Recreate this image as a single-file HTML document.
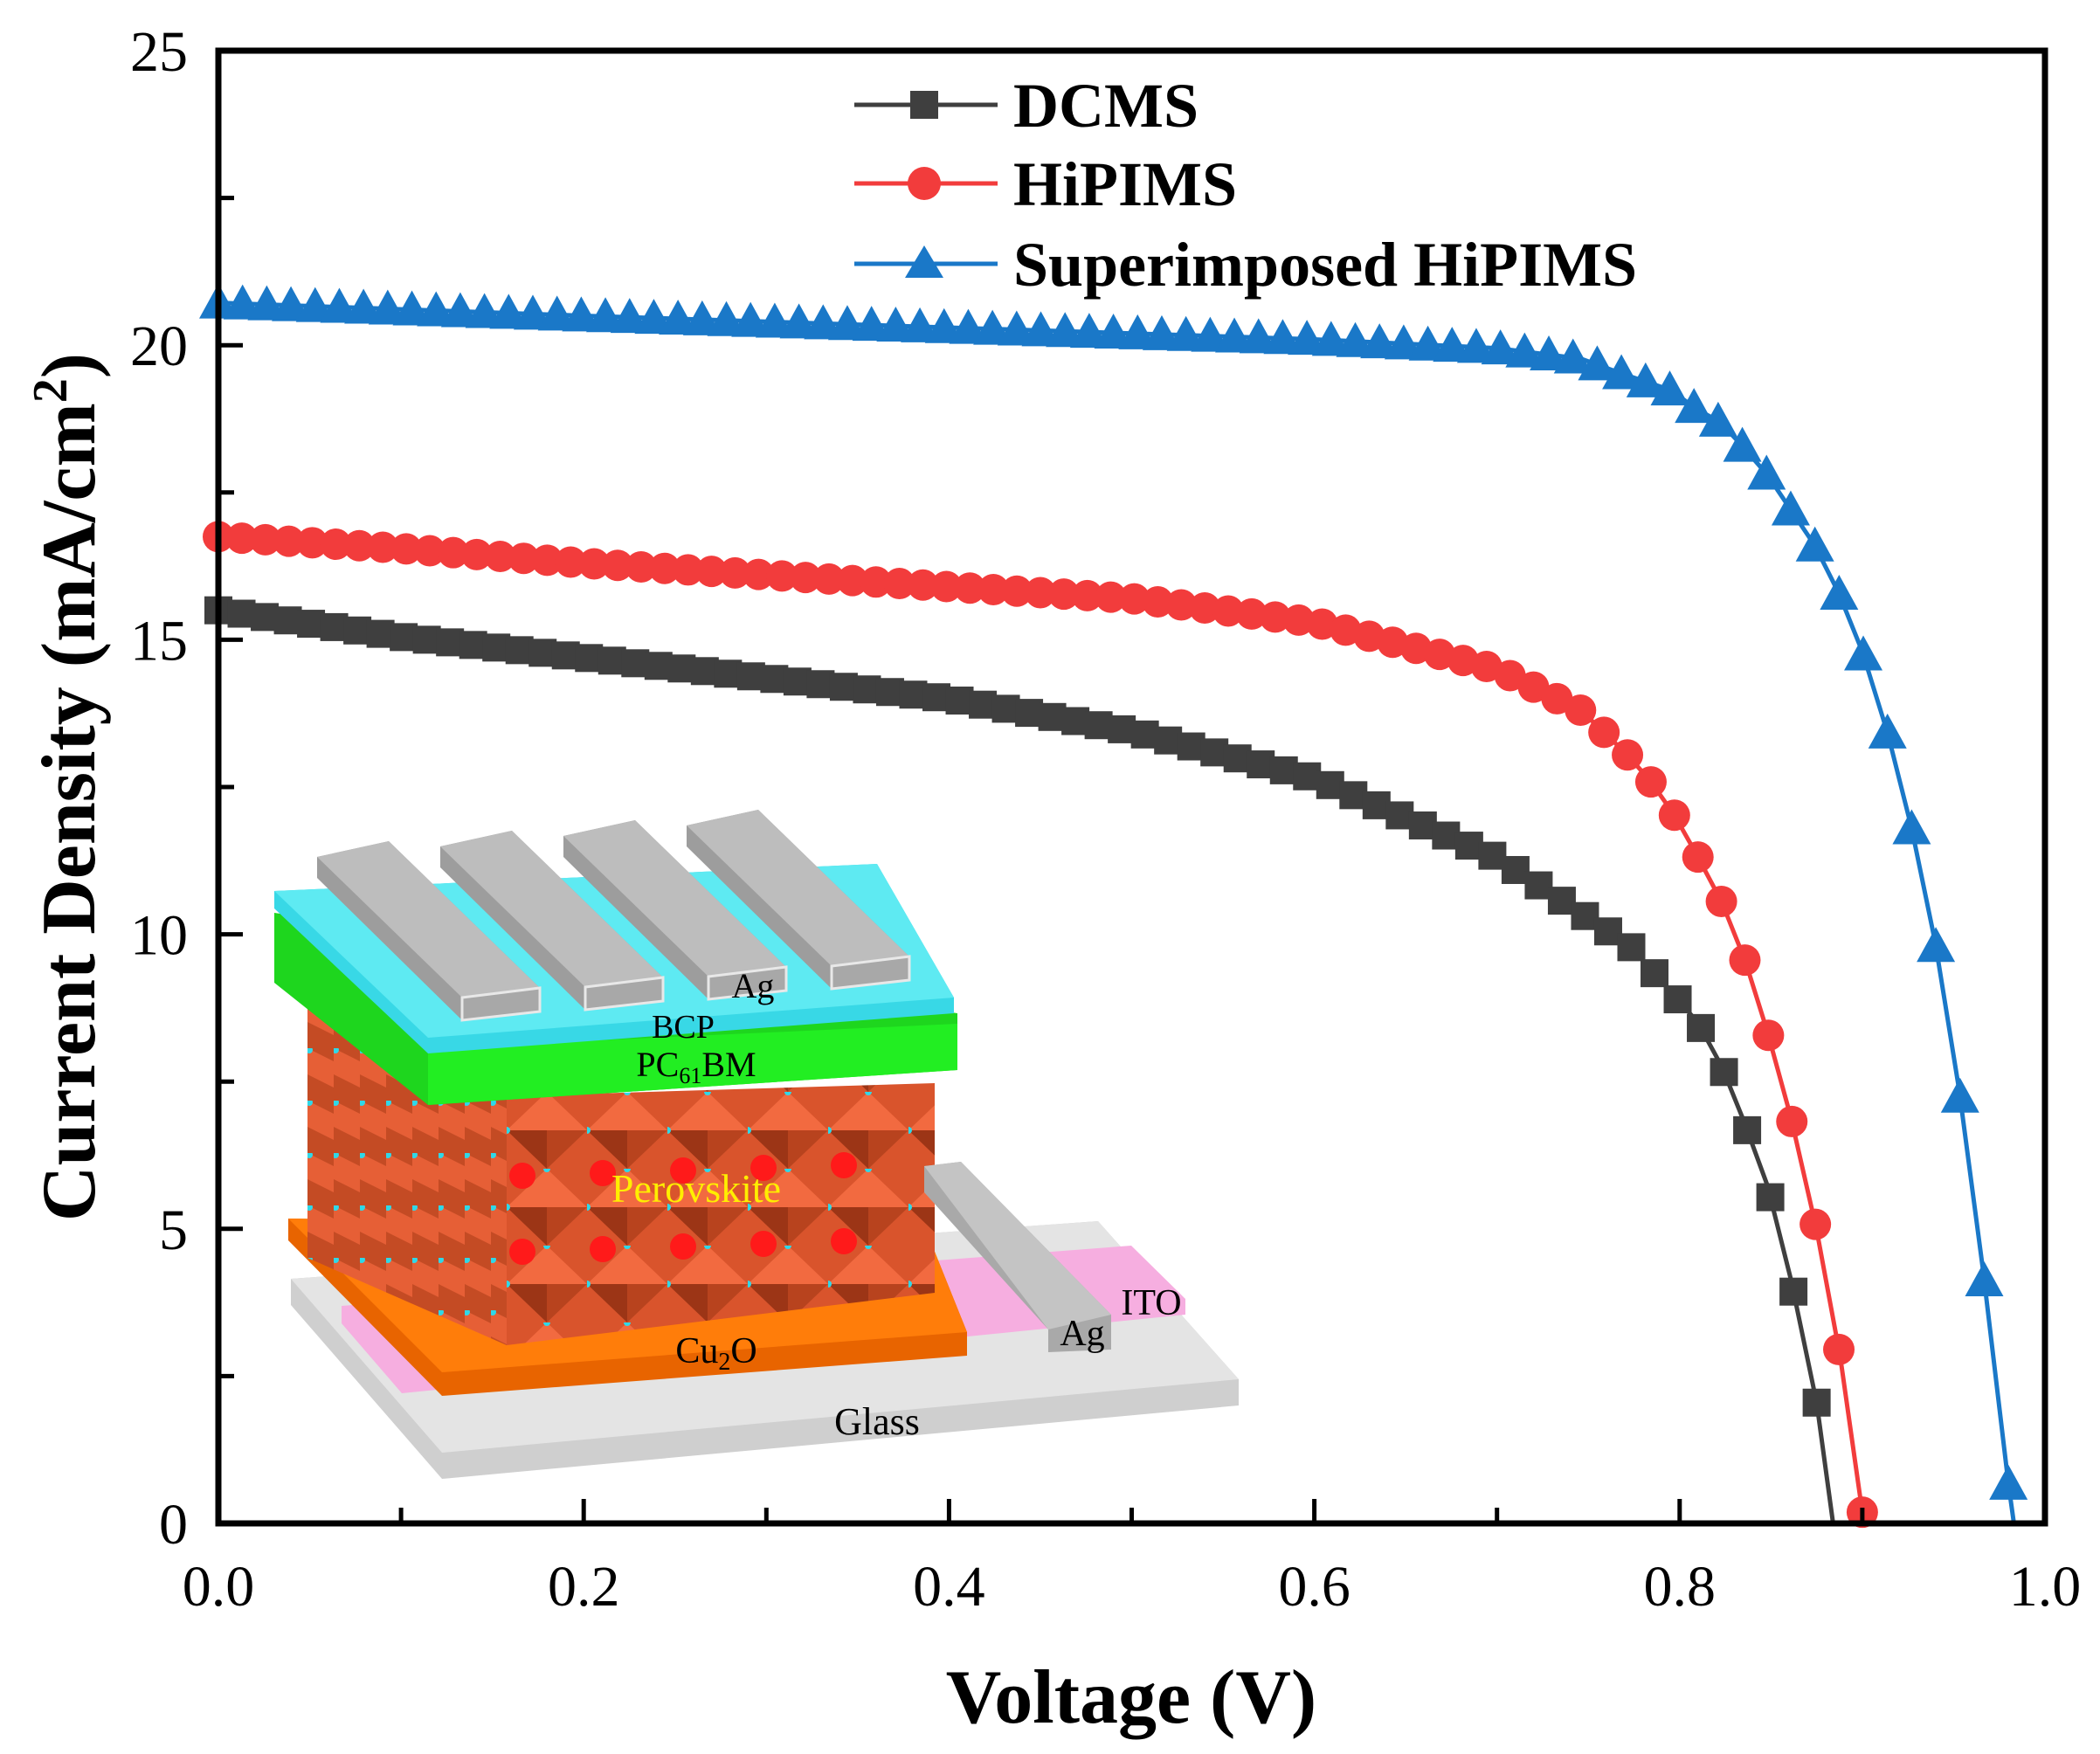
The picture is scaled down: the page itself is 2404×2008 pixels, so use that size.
<!DOCTYPE html>
<html><head><meta charset="utf-8"><style>
html,body{margin:0;padding:0;background:#fff;}
svg{display:block;}
text{font-family:"Liberation Serif",serif;}
</style></head><body>
<svg id="s" width="2404" height="2008" viewBox="0 0 2404 2008" xmlns="http://www.w3.org/2000/svg">
<defs>
<pattern id="oct" x="580" y="1250" width="92" height="88" patternUnits="userSpaceOnUse">
<rect width="92" height="88" fill="#d9542c"/>
<polygon points="46,0 92,44 46,44 0,44" fill="#f26a40"/>
<polygon points="0,44 46,44 46,88" fill="#9c3516"/>
<polygon points="46,44 92,44 46,88" fill="#b8431e"/>
<circle cx="46" cy="0" r="4" fill="#2fd8e8"/>
<circle cx="0" cy="44" r="4" fill="#2fd8e8"/>
</pattern>
<pattern id="octs" x="352" y="1140" width="30" height="60" patternUnits="userSpaceOnUse">
<rect width="30" height="60" fill="#c44b24"/>
<polygon points="0,0 30,15 30,45 0,30" fill="#e65f36"/>
<circle cx="2" cy="2" r="4" fill="#2fd8e8"/>
</pattern>
</defs>
<g id="inset">
<polygon points="333,1464 1257,1398 1418,1579 1418,1609 506,1693 333,1494" fill="#cfcfcf"/>
<polygon points="333,1464 1257,1398 1418,1579 506,1663" fill="#e4e4e4"/>
<text x="1004" y="1642" font-size="44" text-anchor="middle">Glass</text>
<polygon points="391,1495 1295,1426 1357,1487 1357,1505 460,1595 391,1515" fill="#f6aee0"/>
<text x="1318" y="1505" font-size="42" text-anchor="middle">ITO</text>
<polygon points="330,1395 1058,1403 1107,1525 1107,1552 506,1598 330,1420" fill="#e86400"/>
<polygon points="330,1395 1058,1403 1107,1525 506,1571" fill="#ff7d0a"/>
<text x="820" y="1560" font-size="42" text-anchor="middle">Cu<tspan font-size="28" dy="8">2</tspan><tspan dy="-8">O</tspan></text>
<polygon points="352,1142 580,1255 580,1540 352,1440" fill="url(#octs)"/>
<polygon points="580,1255 1070,1240 1070,1480 580,1540" fill="url(#oct)"/>
<g fill="#ff1a1a">
<circle cx="598" cy="1346" r="15"/><circle cx="690" cy="1343" r="15"/><circle cx="782" cy="1340" r="15"/><circle cx="874" cy="1337" r="15"/><circle cx="966" cy="1334" r="15"/>
<circle cx="598" cy="1433" r="15"/><circle cx="690" cy="1430" r="15"/><circle cx="782" cy="1427" r="15"/><circle cx="874" cy="1424" r="15"/><circle cx="966" cy="1421" r="15"/>
</g>
<text x="797" y="1376" font-size="46" fill="#ffee00" text-anchor="middle">Perovskite</text>
<polygon points="1058,1335 1100,1330 1272,1505 1272,1545 1200,1548 1200,1522 1058,1365" fill="#a9a9a9"/>
<polygon points="1058,1335 1100,1330 1272,1505 1200,1522" fill="#c4c4c4"/>
<text x="1239" y="1540" font-size="42" text-anchor="middle">Ag</text>
<polygon points="314,1045 1096,1160 1096,1225 490,1265 314,1125" fill="#1ed61e"/>
<polygon points="490,1200 1096,1172 1096,1225 490,1265" fill="#22ee22"/>
<text x="797" y="1232" font-size="40" text-anchor="middle">PC<tspan font-size="26" dy="8">61</tspan><tspan dy="-8">BM</tspan></text>
<polygon points="314,1020 1004,989 1092,1142 1092,1160 490,1206 314,1040" fill="#38d8e6"/>
<polygon points="314,1020 1004,989 1092,1142 490,1188" fill="#5eeaf2"/>
<text x="782" y="1188" font-size="38" text-anchor="middle">BCP</text>
<g id="fingers"></g>
<text x="862" y="1142" font-size="40" text-anchor="middle">Ag</text>
</g>
<g id="plot"></g>
<rect x="250" y="58" width="2091" height="1686" fill="none" stroke="#000" stroke-width="7"/>
<g id="ticks" stroke="#000" stroke-width="5"></g>
<g font-size="66" id="labels"></g>
<text x="1295" y="1972" font-size="88" font-weight="bold" text-anchor="middle">Voltage (V)</text>
<text transform="translate(108,901) rotate(-90)" font-size="88" font-weight="bold" text-anchor="middle">Current Density (mA/cm<tspan font-size="56" dy="-32">2</tspan><tspan dy="32">)</tspan></text>
<g font-size="72" font-weight="bold">
<line x1="978" y1="120" x2="1142" y2="120" stroke="#3f3f3f" stroke-width="5"/>
<rect x="1042" y="104" width="32" height="32" fill="#3f3f3f"/>
<text x="1160" y="145">DCMS</text>
<line x1="978" y1="210" x2="1142" y2="210" stroke="#f23c3c" stroke-width="5"/>
<circle cx="1058" cy="210" r="19" fill="#f23c3c"/>
<text x="1160" y="235">HiPIMS</text>
<line x1="978" y1="302" x2="1142" y2="302" stroke="#1a78c8" stroke-width="5"/>
<polygon points="1058,281 1080,318 1036,318" fill="#1a78c8"/>
<text x="1160" y="327">Superimposed HiPIMS</text>
</g>
</svg>
<script>
var NS="http://www.w3.org/2000/svg";
function el(t,a,p){var e=document.createElementNS(NS,t);for(var k in a)e.setAttribute(k,a[k]);p.appendChild(e);return e;}
var X=function(v){return 250+v*2091;}, Y=function(j){return 1744-j*67.44;};
var fg=document.getElementById('fingers');
for(var i=0;i<4;i++){var dx=i*141,dy=-i*12;
 function P(a){return a.map(function(p){return (p[0]+dx)+','+(p[1]+dy);}).join(' ');}
 el('polygon',{points:P([[363,981],[445,963],[618,1131],[618,1158],[529,1168],[363,1005]]),fill:'#9d9d9d'},fg);
 el('polygon',{points:P([[363,981],[445,963],[618,1131],[529,1142]]),fill:'#bdbdbd'},fg);
 el('polygon',{points:P([[529,1142],[618,1131],[618,1158],[529,1168]]),fill:'#a8a8a8',stroke:'#e8e8e8','stroke-width':3},fg);
}
var tg=document.getElementById('ticks'),lg=document.getElementById('labels');
for(var k=0;k<=10;k++){var x=X(k/10);el('line',{x1:x,y1:1744,x2:x,y2:k%2?1726:1716},tg);
 if(k%2==0){var t=el('text',{x:x,y:1838,'text-anchor':'middle'},lg);t.textContent=(k/10).toFixed(1);}}
for(var k=0;k<=10;k++){var y=Y(k*2.5);el('line',{x1:250,y1:y,x2:k%2?268:278,y2:y},tg);
 if(k%2==0){var t=el('text',{x:215,y:y+23,'text-anchor':'end'},lg);t.textContent=k*2.5;}}
function interp(a,v){for(var i=1;i<a.length;i++){if(v<=a[i][0]){var p=a[i-1],q=a[i];return p[1]+(q[1]-p[1])*(v-p[0])/(q[0]-p[0]);}}return a[a.length-1][1];}
var D=[[0,15.5],[0.1,15.05],[0.2,14.7],[0.3,14.35],[0.4,14.0],[0.5,13.45],[0.6,12.65],[0.7,11.3],[0.773,9.8],[0.796,9.0],[0.81,8.5],[0.823,7.76],[0.835,6.84],[0.848,5.74],[0.861,4.13],[0.875,2.05],[0.884,0]];
var H=[[0,16.75],[0.1,16.55],[0.2,16.3],[0.3,16.1],[0.4,15.9],[0.5,15.7],[0.6,15.3],[0.7,14.5],[0.746,13.8],[0.771,13.06],[0.784,12.6],[0.797,12.03],[0.809,11.37],[0.823,10.55],[0.836,9.54],[0.848,8.35],[0.861,6.88],[0.875,4.98],[0.888,2.81],[0.9,0.19]];
var B=[[0,20.72],[0.2,20.5],[0.4,20.3],[0.6,20.1],[0.7,19.95],[0.746,19.77],[0.77,19.5],[0.795,19.24],[0.81,18.9],[0.822,18.7],[0.834,18.3],[0.848,17.8],[0.861,17.2],[0.874,16.6],[0.887,15.8],[0.9,14.8],[0.914,13.4],[0.927,11.8],[0.94,9.85],[0.953,7.36],[0.966,4.32],[0.98,0.67],[0.983,0]];
var pg=document.getElementById('plot');
function series(a,col,n,vmax,kind,sz){
 var pts=a.map(function(p){return X(p[0])+','+Y(p[1]);}).join(' ');
 el('polyline',{points:pts,fill:'none',stroke:col,'stroke-width':5},pg);
 for(var i=0;i<=n;i++){var v=vmax*i/n,j=interp(a,v),x=X(v),y=Y(j);
  if(kind=='s')el('rect',{x:x-sz/2,y:y-sz/2,width:sz,height:sz,fill:col},pg);
  else if(kind=='c')el('circle',{cx:x,cy:y,r:sz/2,fill:col},pg);
  else el('polygon',{points:x+','+(y-sz*0.55)+' '+(x+sz*0.55)+','+(y+sz*0.45)+' '+(x-sz*0.55)+','+(y+sz*0.45),fill:col},pg);}
}
series(D,'#3f3f3f',69,0.875,'s',32);
series(H,'#f23c3c',70,0.9,'c',36);
series(B,'#1a78c8',74,0.98,'t',40);
</script>
</body></html>
